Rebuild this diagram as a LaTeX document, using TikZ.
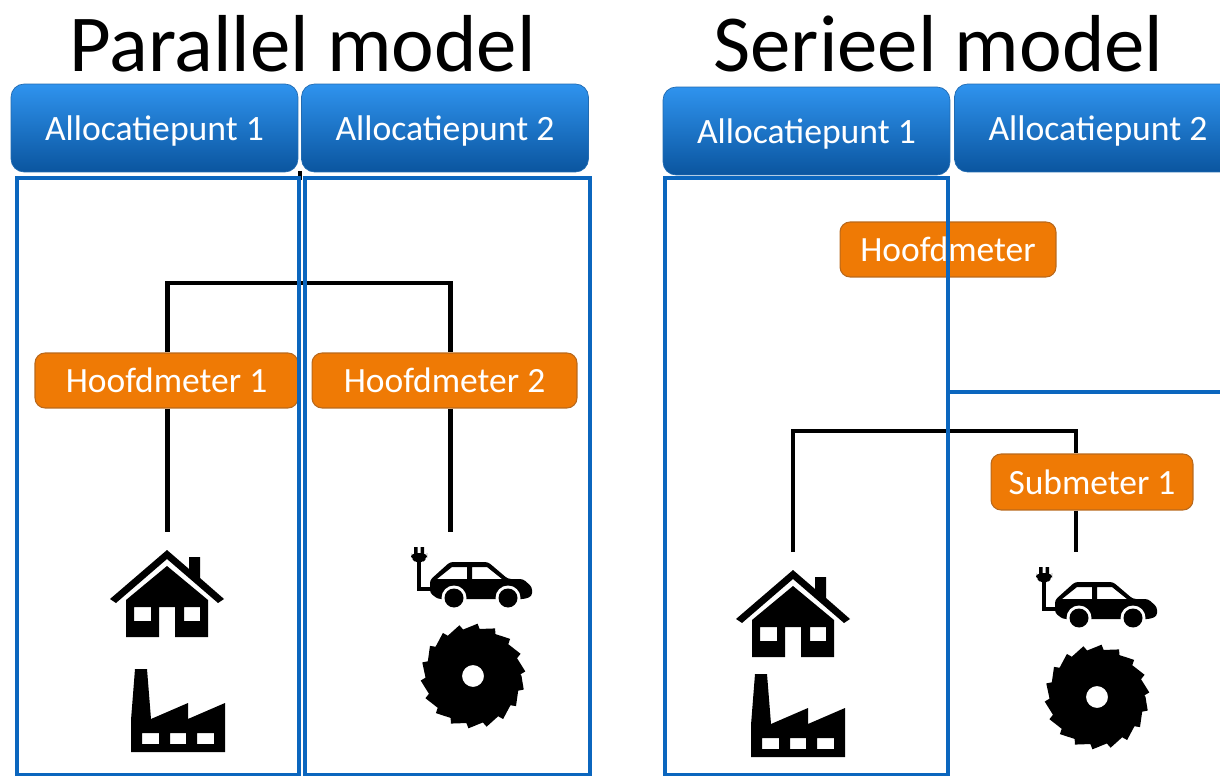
\documentclass[tikz,border=0pt]{standalone}
\usepackage{fontspec}
\setmainfont{Carlito}
\definecolor{allocblue}{HTML}{0B66BE}
\definecolor{alloctop}{HTML}{2F93EE}
\definecolor{allocbottom}{HTML}{0A559F}
\definecolor{meterorange}{HTML}{EF7A05}
\definecolor{meterline}{HTML}{B8681C}
\tikzset{
	titletext/.style={font=\fontsize{46}{50}\selectfont, inner sep=0pt},
	allocbox/.style={rounded corners=0.26cm, top color=alloctop, bottom color=allocbottom, draw=allocblue!80!gray, line width=0.4pt,
		text=white, font=\fontsize{20.3}{22}\selectfont, text depth=0pt, minimum width=5.74cm, minimum height=1.76cm},
	meterbox/.style={rounded corners=0.2cm, fill=meterorange, draw=meterline, line width=0.6pt,
		text=white, font=\fontsize{20.2}{22}\selectfont, minimum height=1.1cm},
	framebox/.style={draw=allocblue, line width=0.072cm},
	wire/.style={draw=black, line width=0.088cm},
	house/.pic={
		\fill (0,-87) -- (22,-68) -- (22,-80) -- (33,-80) -- (33,-59) -- (57,-38) -- (51,-34) -- (0,-78) -- (-51,-34) -- (-57,-38) -- cycle;
		\fill[even odd rule] (0,-71) -- (41,-37) -- (41,0) -- (8,0) -- (8,-30) -- (-8,-30) -- (-8,0) -- (-41,0) -- (-41,-37) -- cycle
			(-33,-30) rectangle (-16,-16) (17,-30) rectangle (33,-16);
	},
	factory/.pic={
		\fill[even odd rule] (0,0) -- (0,-32) -- (4,-83) -- (16,-83) -- (20,-33) -- (57,-49) -- (57,-33) -- (94,-49) -- (94,0) -- cycle
			(11,-19) rectangle (28,-8) (39,-19) rectangle (55,-8) (66,-19) rectangle (83,-8);
	},
	evcar/.pic={
		% plug and cord
		\fill (14,17) rectangle (17.5,24) (20.5,17) rectangle (24,24);
		\fill[rounded corners=0.1cm] (11,23) -- (27,23) -- (27,28) -- (22,33) -- (16,33) -- (11,28) -- cycle;
		\draw[line width=0.09cm] (19,31) -- (19,59) -- (33,59);
		% body
		\fill[even odd rule, rounded corners=0.06cm] (30,50) -- (50,32) -- (88,32) -- (108,49) -- (123,49) -- (132,57) -- (132,66) -- (125,69) -- (38,69) -- (30,63) -- cycle
			[sharp corners] (37,49) -- (52,37) -- (67,37) -- (67,49) -- cycle
			(72,37) -- (87,37) -- (102,49) -- (72,49) -- cycle;
		\fill[white] (54,68) circle[radius=12.5] (108,68) circle[radius=12.5];
		\fill (54,68) circle[radius=9.5] (108,68) circle[radius=9.5];
	},
	sawblade/.pic={
		\fill[even odd rule] (0:48.5) \foreach \a in {15,35,...,355}{ -- (\a:52.5) -- (\a+3:47.5)} -- cycle
			(0,0) circle[radius=11];
	}
}
\begin{document}
\begin{tikzpicture}[x=0.02cm,y=-0.02cm]
	\path[use as bounding box, clip] (0,0) rectangle (1220,776);
	\node (t1) [titletext] at (302.5,44) {Parallel model};
	\node (t2) [titletext] at (938.5,44) {Serieel model};
	\node (ap1) [allocbox] at (154.5,128) {Allocatiepunt 1};
	\node (ap2) [allocbox] at (445,128) {Allocatiepunt 2};
	\node (ap3) [allocbox] at (806.5,131) {Allocatiepunt 1};
	\node (ap4) [allocbox] at (1098,128) {Allocatiepunt 2};
	\node (hm1) [meterbox, minimum width=5.26cm] at (166.5,380.5) {Hoofdmeter 1};
	\node (hm2) [meterbox, minimum width=5.3cm] at (444.5,380.5) {Hoofdmeter 2};
	\node (hm3) [meterbox, minimum width=4.32cm] at (948,249.5) {Hoofdmeter};
	\node (sm1) [meterbox, minimum width=4.04cm, minimum height=1.12cm] at (1092,482) {Submeter 1};
	\coordinate (top1) at (167.5,283);
	\coordinate (top2) at (450.5,283);
	\coordinate (end1) at (167.5,532);
	\coordinate (end2) at (450.5,532);
	\coordinate (top3) at (793,431);
	\coordinate (top4) at (1076,431);
	\coordinate (end3) at (793,552);
	\coordinate (end4) at (1076,552);
	\coordinate (stub) at (300,171);
	\draw[wire] (top1 |- hm1.north) -- (top1) -- (top2) -- (top2 |- hm2.north);
	\draw[wire] (top1 |- hm1.south) -- (end1);
	\draw[wire] (top2 |- hm2.south) -- (end2);
	\draw[wire] (end3) -- (top3) -- (top4) -- (top4 |- sm1.north);
	\draw[wire] (top4 |- sm1.south) -- (end4);
	\draw[wire] (stub) -- ++(0,9);
	\node (f1) [framebox, minimum width=5.64cm, minimum height=11.94cm] at (158,476.5) {};
	\node (f2) [framebox, minimum width=5.7cm, minimum height=11.94cm] at (447.5,476.5) {};
	\node (f3) [framebox, minimum width=5.66cm, minimum height=11.94cm] at (806.5,476.5) {};
	\coordinate (f4a) at (948,392);
	\coordinate (f4b) at (1220,392);
	\draw[framebox] (f4a) -- (f4b);
	\pic at (167,637) {house};
	\pic at (131,752) {factory};
	\pic at (400,530) {evcar};
	\pic at (473,676) {sawblade};
	\pic at (793,657) {house};
	\pic at (751,757) {factory};
	\pic at (1025,550) {evcar};
	\pic at (1097,697) {sawblade};
\end{tikzpicture}
\end{document}
